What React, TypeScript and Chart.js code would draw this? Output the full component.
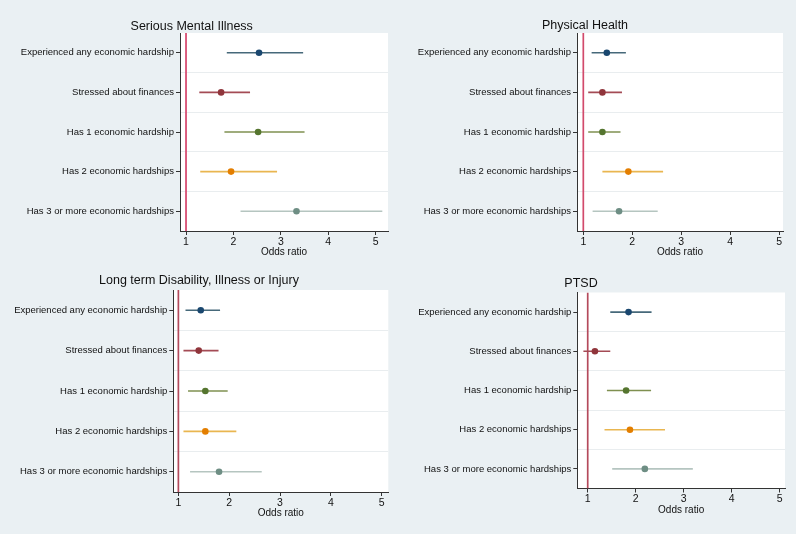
import React, { useEffect, useRef } from 'react';
import { Chart, registerables } from 'chart.js';

Chart.register(...registerables);

// ---------- data ----------
const categories = [
  'Experienced any economic hardship',
  'Stressed about finances',
  'Has 1 economic hardship',
  'Has 2 economic hardships',
  'Has 3 or more economic hardships',
];
const xTickValues = [1, 2, 3, 4, 5];
const referenceOR = 1;
const xAxisTitle = 'Odds ratio';

const panelTitles = [
  'Serious Mental Illness',
  'Physical Health',
  'Long term Disability, Illness or Injury',
  'PTSD',
];

const smiOR = [2.54, 1.74, 2.52, 1.95, 3.33];
const smiLow = [1.86, 1.28, 1.81, 1.3, 2.15];
const smiHigh = [3.47, 2.35, 3.5, 2.92, 5.14];

const phOR = [1.48, 1.39, 1.39, 1.92, 1.73];
const phLow = [1.17, 1.1, 1.1, 1.39, 1.19];
const phHigh = [1.87, 1.79, 1.76, 2.63, 2.52];

const ltdOR = [1.44, 1.4, 1.53, 1.53, 1.8];
const ltdLow = [1.14, 1.1, 1.19, 1.1, 1.23];
const ltdHigh = [1.82, 1.79, 1.97, 2.14, 2.64];

const ptsdOR = [1.85, 1.15, 1.8, 1.88, 2.19];
const ptsdLow = [1.47, 0.91, 1.4, 1.35, 1.51];
const ptsdHigh = [2.33, 1.47, 2.32, 2.61, 3.19];

// ---------- styles ----------
const pointColors = ['#1a476f', '#90353b', '#55752f', '#e37e00', '#6e8e84'];
const ciColors = ['#46697a', '#a44b55', '#7f9050', '#e9b650', '#b5c5c0'];
const FONT = "'Liberation Sans', Arial, sans-serif";
const PAGE_H = 534;
const TITLE_SIZE = 12.5;
const X_AXIS_H = 27.3;

const panels = [
  { title: panelTitles[0], or: smiOR, lo: smiLow, hi: smiHigh,
    g: { c: -20, L: 180, R: 388, T: 33, B: 231, tx: 191.7, ty: 27, xMin: 0.873, xMax: 5.26, ref: '#d6456c' } },
  { title: panelTitles[1], or: phOR, lo: phLow, hi: phHigh,
    g: { c: 370, L: 577, R: 783, T: 33, B: 231, tx: 585, ty: 25.5, xMin: 0.871, xMax: 5.08, ref: '#d24a6c' } },
  { title: panelTitles[2], or: ltdOR, lo: ltdLow, hi: ltdHigh,
    g: { c: 0, L: 173.3, R: 388.3, T: 290, B: 492, tx: 199, ty: 280.5, xMin: 0.9, xMax: 5.13, ref: '#b44a5c' } },
  { title: panelTitles[3], or: ptsdOR, lo: ptsdLow, hi: ptsdHigh,
    g: { c: 370, L: 577.3, R: 785, T: 292.5, B: 488.5, tx: 581, ty: 284, xMin: 0.783, xMax: 5.11, ref: '#b44a5c' } },
];

const whiteArea = {
  id: 'whiteArea',
  beforeDraw(chart: any) {
    const { ctx, chartArea } = chart;
    ctx.save();
    ctx.fillStyle = '#ffffff';
    ctx.fillRect(chartArea.left, chartArea.top, chartArea.right - chartArea.left, chartArea.bottom - chartArea.top);
    ctx.restore();
  },
};

function Panel({ p }: { p: any }) {
  const ref = useRef<HTMLCanvasElement | null>(null);
  const g = p.g;
  const pr = 8;
  const W = Math.ceil(g.R - g.c + pr);
  const prr = W - (g.R - g.c);
  const pl = 2 * g.tx - g.R - g.c;
  const padT = 2 * g.ty - g.T;
  const lh = (g.T - padT) / TITLE_SIZE;
  const padB = PAGE_H - g.B - X_AXIS_H;
  const yW = g.L - (g.c + pl);

  useEffect(() => {
    const datasets: any[] = [];
    categories.forEach((_, i) => {
      datasets.push({
        data: [{ x: p.or[i], y: i + 1 }],
        pointRadius: 3.3,
        pointBorderWidth: 0,
        pointBackgroundColor: pointColors[i],
        borderColor: pointColors[i],
        showLine: false,
      });
    });
    categories.forEach((_, i) => {
      datasets.push({
        data: [{ x: p.lo[i], y: i + 1 }, { x: p.hi[i], y: i + 1 }],
        showLine: true,
        pointRadius: 0,
        borderColor: ciColors[i],
        borderWidth: 1.6,
      });
    });
    datasets.push({
      data: [{ x: referenceOR, y: 0.5 }, { x: referenceOR, y: 5.5 }],
      showLine: true,
      pointRadius: 0,
      borderColor: g.ref,
      borderWidth: 1.7,
    });

    const chart = new Chart(ref.current as HTMLCanvasElement, {
      type: 'scatter',
      data: { datasets },
      plugins: [whiteArea],
      options: {
        responsive: false,
        animation: false,
        events: [],
        layout: { padding: { left: pl, right: prr, top: padT, bottom: padB } },
        plugins: {
          legend: { display: false },
          tooltip: { enabled: false },
          title: {
            display: true,
            text: p.title,
            color: '#111111',
            font: { family: FONT, size: TITLE_SIZE, weight: 'normal', lineHeight: lh },
            padding: { top: 0, bottom: 0 },
          },
        },
        scales: {
          x: {
            type: 'linear',
            min: g.xMin,
            max: g.xMax,
            afterBuildTicks: (s: any) => { s.ticks = xTickValues.map((v) => ({ value: v })); },
            afterFit: (s: any) => { s.height = X_AXIS_H; },
            ticks: { font: { family: FONT, size: 10.5 }, color: '#111111', padding: 0.5, maxRotation: 0, autoSkip: false },
            grid: { drawOnChartArea: false, drawTicks: true, tickLength: 4, color: '#333333' },
            border: { color: '#333333', width: 1 },
            title: { display: true, text: xAxisTitle, color: '#111111', font: { family: FONT, size: 10 }, padding: 0 },
          },
          y: {
            type: 'linear',
            position: 'left',
            reverse: true,
            min: 0.5,
            max: 5.5,
            afterBuildTicks: (s: any) => { s.ticks = categories.map((_, i) => ({ value: i + 1 })); },
            afterFit: (s: any) => { s.width = yW; },
            ticks: {
              font: { family: FONT, size: 9.5 },
              color: '#111111',
              padding: 2,
              autoSkip: false,
              callback: (v: any) => categories[Math.round(Number(v)) - 1],
            },
            grid: { drawOnChartArea: false, drawTicks: true, tickLength: 4, color: '#333333' },
            border: { color: '#333333', width: 1 },
          },
          yg: {
            type: 'linear',
            position: 'left',
            reverse: true,
            min: 0.5,
            max: 5.5,
            afterBuildTicks: (s: any) => { s.ticks = [1.5, 2.5, 3.5, 4.5].map((v) => ({ value: v })); },
            afterFit: (s: any) => { s.width = 0; },
            ticks: { display: false },
            grid: { drawTicks: false, color: '#e9edef', lineWidth: 1 },
            border: { display: false },
          },
        },
      } as any,
    });
    return () => chart.destroy();
  }, []);

  return (
    <canvas
      ref={ref}
      width={W}
      height={PAGE_H}
      style={{ position: 'absolute', left: g.c, top: 0, width: W, height: PAGE_H }}
    />
  );
}

export default function App() {
  return (
    <div
      style={{
        position: 'fixed',
        left: 0,
        top: 0,
        width: 796,
        height: PAGE_H,
        background: '#eaf0f3',
        overflow: 'hidden',
      }}
    >
      {panels.map((p, i) => (
        <Panel key={i} p={p} />
      ))}
    </div>
  );
}
